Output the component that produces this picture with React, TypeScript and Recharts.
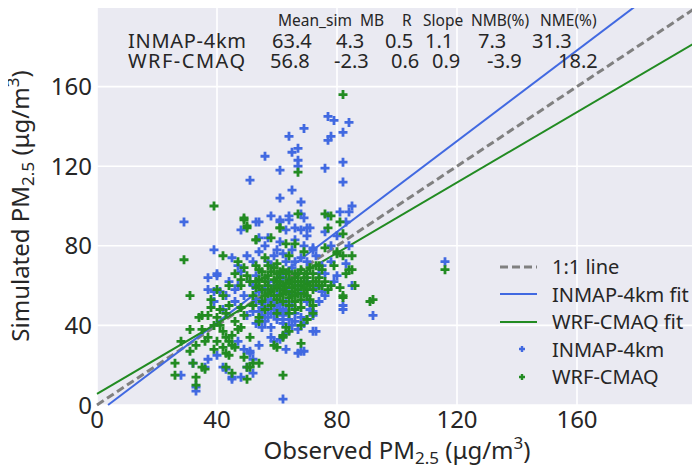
import { CartesianGrid, Legend, ReferenceLine, Scatter, ScatterChart, XAxis, YAxis } from 'recharts';

// observed vs simulated PM2.5
const inmapPoints: [number, number][] = [
    [29, 92], [51, 113], [56, 125], [61, 118], [64, 135], [69, 139], [65, 127], [67, 129], [67, 123], [67, 120],
    [65, 108], [61, 104], [68, 102], [58, 95], [77, 145], [79, 143], [84, 142], [82, 137], [78, 135], [77, 133],
    [76, 119], [82, 122], [82, 112], [85, 100], [84, 97], [81, 97], [48, 88], [53, 92], [54, 92], [61, 93],
    [64, 95], [68, 96], [69, 94], [70, 89], [71, 89], [76, 87], [116, 72], [92, 45], [33, 7], [62, 3],
    [39, 78], [37, 64], [40, 66], [37, 58], [39, 57], [41, 57], [39, 52], [42, 48], [28, 15], [32, 21],
    [33, 9], [37, 23], [42, 19], [45, 14], [48, 14], [51, 26], [49, 28], [68, 27], [67, 26], [82, 48],
    [72, 37], [75, 70], [84, 80], [72, 79], [61, 92], [64, 93], [68, 88], [77, 95], [83, 92], [63, 88],
    [66, 89], [54, 84], [56, 80], [61, 82], [66, 83], [70, 85], [45, 74], [50, 75], [54, 77], [59, 75],
    [63, 72], [68, 74], [72, 78], [78, 80], [83, 71], [40, 65], [48, 67], [51, 62], [54, 57], [58, 70],
    [62, 64], [65, 69], [60, 55], [62, 48], [68, 56], [73, 59], [75, 57], [76, 55], [80, 65], [85, 60],
    [82, 50], [72, 47], [53, 53], [55, 51], [52, 47], [57, 48], [61, 47], [62, 45], [60, 43], [64, 43],
    [68, 44], [72, 45], [73, 37], [67, 38], [55, 39], [58, 39], [58, 34], [59, 32], [63, 28], [54, 30],
    [69, 27], [47, 32], [40, 25], [51, 27], [52, 23], [50, 19], [43, 18], [45, 13], [52, 16], [36, 19],
    [56, 58], [58, 52], [60, 50], [63, 52], [65, 50], [66, 46], [64, 56], [57, 62], [59, 60], [61, 58],
    [67, 60], [70, 52], [55, 45], [59, 46], [62, 41], [65, 40], [63, 36], [61, 33], [70, 62], [66, 72],
    [60, 78], [57, 84], [74, 66], [78, 72], [80, 85], [47, 60], [44, 62], [46, 52], [50, 45], [53, 41],
    [55, 49], [57, 44], [59, 50], [60, 48], [61, 51], [63, 47], [58, 46], [56, 42], [54, 47], [62, 43],
    [57, 53], [66, 42], [69, 41], [71, 48], [74, 52], [52, 60], [49, 55], [46, 58], [43, 55], [47, 70],
    [52, 72], [57, 72], [53, 65], [70, 72], [73, 75], [76, 66], [79, 62], [65, 78], [62, 76], [69, 80],
];

const cmaqPoints: [number, number][] = [
    [82, 156], [67, 117], [39, 100], [49, 94], [50, 89], [67, 96], [76, 96], [78, 95], [61, 89], [77, 89],
    [82, 86], [53, 83], [116, 68], [92, 53], [33, 10], [29, 73], [31, 55], [34, 44], [31, 38], [28, 32],
    [26, 21], [26, 15], [32, 21], [33, 14], [35, 19], [50, 13], [50, 19], [52, 21], [45, 30], [43, 26],
    [62, 15], [70, 43], [86, 60], [82, 54], [91, 52], [84, 68], [80, 76], [49, 93], [50, 90], [61, 89],
    [81, 92], [53, 83], [58, 84], [63, 81], [66, 81], [42, 75], [47, 72], [49, 69], [53, 70], [56, 74],
    [59, 69], [60, 71], [64, 75], [69, 77], [76, 79], [80, 77], [82, 75], [85, 75], [79, 70], [83, 66],
    [85, 68], [48, 60], [51, 62], [53, 59], [54, 63], [57, 65], [60, 62], [62, 60], [64, 63], [66, 66],
    [69, 64], [71, 69], [73, 70], [72, 62], [65, 57], [70, 58], [56, 55], [58, 57], [60, 59], [52, 55],
    [81, 59], [82, 55], [44, 50], [41, 48], [48, 49], [64, 50], [68, 49], [72, 50], [38, 53], [38, 49],
    [37, 45], [35, 45], [40, 44], [43, 46], [36, 32], [37, 34], [39, 28], [43, 34], [45, 35], [47, 38],
    [44, 32], [46, 29], [48, 39], [51, 34], [54, 44], [54, 42], [62, 34], [62, 35], [64, 37], [60, 29],
    [59, 30], [68, 31], [72, 46], [70, 43], [68, 40], [63, 39], [44, 25], [49, 24], [54, 21], [51, 19],
    [43, 19], [45, 16], [36, 18], [57, 60], [59, 63], [61, 64], [63, 61], [65, 59], [67, 62], [68, 60],
    [70, 61], [72, 58], [74, 60], [62, 56], [64, 54], [66, 55], [68, 53], [60, 53], [58, 50], [62, 52],
    [66, 52], [70, 55], [56, 62], [55, 67], [58, 67], [61, 67], [63, 66], [67, 66], [70, 66], [74, 64],
    [76, 62], [78, 60], [75, 68], [56, 48], [60, 46], [64, 46], [66, 48], [58, 58], [60, 60], [61, 62],
    [62, 58], [63, 59], [64, 61], [65, 62], [66, 60], [67, 58], [68, 62], [69, 59], [71, 60], [73, 62],
    [75, 60], [77, 58], [59, 55], [61, 55], [63, 57], [65, 55], [67, 56], [69, 56], [71, 53], [57, 56],
    [55, 58], [54, 60], [53, 62], [56, 64], [60, 66], [62, 68], [64, 67], [66, 64], [68, 68], [70, 64],
    [72, 66], [74, 70], [57, 70], [54, 68], [50, 65], [48, 63], [46, 66], [44, 60], [42, 55], [40, 58],
    [39, 40], [41, 40], [42, 37], [46, 42], [49, 45], [52, 50], [55, 52], [35, 38], [33, 30], [31, 27],
    [40, 32], [42, 29],
];

const xTicks = [0, 40, 80, 120, 160];
const yTicks = [0, 40, 80, 120, 160];
const axisMax = 200;

const fitSlopes = [1.14, 0.885];
const fitIntercepts = [-4.2, 5.6];

const seriesNames = ['INMAP-4km', 'WRF-CMAQ'];
const statHeaders = ['Mean_sim', 'MB', 'R', 'Slope', 'NMB(%)', 'NME(%)'];
const inmapStats = ['63.4', '4.3', '0.5', '1.1', '7.3', '31.3'];
const cmaqStats = ['56.8', '-2.3', '0.6', '0.9', '-3.9', '18.2'];

const BLUE = '#4169E1';
const GREEN = '#228B22';
const GRAY = '#808080';
const INK = '#262626';
const FONT = '"Noto Sans", sans-serif';

// clip y = m*x + b to the square axis box
function fitSegment(m: number, b: number) {
    let x1 = 0, y1 = b;
    if (y1 < 0) { x1 = -b / m; y1 = 0; }
    let x2 = axisMax, y2 = m * axisMax + b;
    if (y2 > axisMax) { x2 = (axisMax - b) / m; y2 = axisMax; }
    return [{ x: x1, y: y1 }, { x: x2, y: y2 }];
}

const plus = (color: string, r = 4.5, w = 2.8) => (props: any) => {
    const { cx, cy } = props;
    if (cx == null || cy == null) return <g />;
    return <path d={`M${cx - r},${cy}H${cx + r}M${cx},${cy - r}V${cy + r}`} stroke={color} strokeWidth={w} fill="none" />;
};

function LegendBox() {
    const row = { display: 'flex', alignItems: 'center', height: 27.5 } as const;
    const sample = { width: 50, display: 'flex', justifyContent: 'center' } as const;
    return (
        <div style={{ fontFamily: FONT, fontSize: 20, color: INK }}>
            <div style={row}>
                <svg width={50} height={10}><line x1={3} y1={5} x2={40} y2={5} stroke={GRAY} strokeWidth={3} strokeDasharray="8 4" /></svg>
                <span style={{ marginLeft: 5 }}>1:1 line</span>
            </div>
            <div style={row}>
                <svg width={50} height={10}><line x1={3} y1={5} x2={40} y2={5} stroke={BLUE} strokeWidth={2} /></svg>
                <span style={{ marginLeft: 5 }}>{seriesNames[0]} fit</span>
            </div>
            <div style={row}>
                <svg width={50} height={10}><line x1={3} y1={5} x2={40} y2={5} stroke={GREEN} strokeWidth={2} /></svg>
                <span style={{ marginLeft: 5 }}>{seriesNames[1]} fit</span>
            </div>
            <div style={row}>
                <div style={sample}><svg width={10} height={10}><path d="M2,5H8M5,2V8" stroke={BLUE} strokeWidth={2.4} /></svg></div>
                <span style={{ marginLeft: 5 }}>{seriesNames[0]}</span>
            </div>
            <div style={row}>
                <div style={sample}><svg width={10} height={10}><path d="M2,5H8M5,2V8" stroke={GREEN} strokeWidth={2.4} /></svg></div>
                <span style={{ marginLeft: 5 }}>{seriesNames[1]}</span>
            </div>
        </div>
    );
}

export default function App() {
    const inmapData = inmapPoints.map(([x, y]) => ({ x, y }));
    const cmaqData = cmaqPoints.map(([x, y]) => ({ x, y }));
    const headerX = [278, 360, 402, 423, 471, 540];
    const row1X = [272, 336, 385, 425, 478, 532];
    const row2X = [270, 334, 391, 432, 487, 558];

    return (
        <div style={{ position: 'relative', width: 700, height: 475, margin: -8, background: '#fff' }}>
            <ScatterChart width={700} height={475} margin={{ top: 7, right: 3, bottom: 0, left: 0 }}>
                <CartesianGrid fill="#EAEAF2" stroke="#fff" strokeWidth={1.6} />
                <XAxis
                    type="number" dataKey="x" domain={[0, axisMax]} ticks={xTicks} interval={0}
                    axisLine={false} tickLine={false} tickSize={0} tickMargin={6} height={70}
                    tick={{ fill: INK, fontSize: 24, fontFamily: FONT }}
                />
                <YAxis
                    type="number" dataKey="y" domain={[0, axisMax]} ticks={yTicks} interval={0}
                    axisLine={false} tickLine={false} tickSize={0} tickMargin={5} width={97}
                    tick={{ fill: INK, fontSize: 24, fontFamily: FONT }}
                />
                <Scatter name={seriesNames[0]} data={inmapData} shape={plus(BLUE)} isAnimationActive={false} />
                <Scatter name={seriesNames[1]} data={cmaqData} shape={plus(GREEN)} isAnimationActive={false} />
                <ReferenceLine segment={[{ x: 0, y: 0 }, { x: axisMax, y: axisMax }]} stroke={GRAY} strokeWidth={3} strokeDasharray="8 4" ifOverflow="visible" />
                <ReferenceLine segment={fitSegment(fitSlopes[0], fitIntercepts[0])} stroke={BLUE} strokeWidth={2} ifOverflow="visible" />
                <ReferenceLine segment={fitSegment(fitSlopes[1], fitIntercepts[1])} stroke={GREEN} strokeWidth={2} ifOverflow="visible" />
                <Legend
                    layout="horizontal" verticalAlign="middle" align="center"
                    wrapperStyle={{ position: 'absolute', left: 497, top: 253, width: 195, height: 140 }}
                    content={() => <LegendBox />}
                />
            </ScatterChart>
            <svg width={700} height={475} style={{ position: 'absolute', left: 0, top: 0, pointerEvents: 'none' }} fontFamily={FONT} fill={INK}>
                {statHeaders.map((h, i) => (
                    <text key={h} x={headerX[i]} y={26} fontSize={15.5}>{h}</text>
                ))}
                <text x={128} y={47.5} fontSize={20} textLength={118}>{seriesNames[0]}</text>
                {inmapStats.map((v, i) => (
                    <text key={'a' + i} x={row1X[i]} y={47.5} fontSize={20}>{v}</text>
                ))}
                <text x={128} y={67.5} fontSize={20} textLength={117}>{seriesNames[1]}</text>
                {cmaqStats.map((v, i) => (
                    <text key={'b' + i} x={row2X[i]} y={67.5} fontSize={20}>{v}</text>
                ))}
                <text x={397} y={459} fontSize={24} textAnchor="middle">
                    <tspan>Observed PM</tspan>
                    <tspan fontSize={17} dy={5}>2.5</tspan>
                    <tspan dy={-5}> (μg/m</tspan>
                    <tspan fontSize={17} dy={-10}>3</tspan>
                    <tspan dy={10}>)</tspan>
                </text>
                <text x={0} y={0} fontSize={24} textAnchor="middle" transform="translate(29,206) rotate(-90)">
                    <tspan>Simulated PM</tspan>
                    <tspan fontSize={17} dy={5}>2.5</tspan>
                    <tspan dy={-5}> (μg/m</tspan>
                    <tspan fontSize={17} dy={-10}>3</tspan>
                    <tspan dy={10}>)</tspan>
                </text>
            </svg>
        </div>
    );
}
